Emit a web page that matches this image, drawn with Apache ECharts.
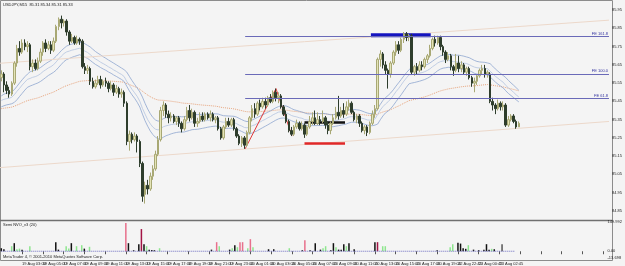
<!DOCTYPE html>
<html><head><meta charset="utf-8">
<script src="https://cdn.jsdelivr.net/npm/echarts@6/dist/echarts.min.js"></script>
<style>html,body{margin:0;padding:0;background:#f4f4f4}#c{width:625px;height:266px}</style>
</head><body><div id="c"></div>
<script>
const symbolTitle = 'USDJPY,M15  85.31 85.34 85.31 85.33';
const indicatorTitle = 'Semi NVO_v3 (20)';
const copyright = 'MetaTrader 4, \u00a9 2001-2010 MetaQuotes Software Corp.';
const totalSlots = 233;
// [open, close, low, high]
const candles = [
[85.58,85.60,85.56,85.62],[85.60,85.54,85.50,85.61],[85.54,85.51,85.49,85.56],[85.51,85.49,85.47,85.53],[85.49,85.55,85.48,85.56],
[85.55,85.66,85.54,85.67],[85.66,85.74,85.64,85.76],[85.74,85.72,85.70,85.78],[85.72,85.77,85.71,85.79],[85.77,85.75,85.73,85.79],
[85.75,85.76,85.72,85.78],[85.76,85.64,85.62,85.77],[85.64,85.66,85.61,85.68],[85.66,85.63,85.62,85.68],[85.63,85.67,85.62,85.69],
[85.67,85.72,85.66,85.74],[85.72,85.77,85.70,85.78],[85.77,85.74,85.72,85.79],[85.74,85.76,85.73,85.78],[85.76,85.73,85.71,85.78],
[85.73,85.78,85.72,85.80],[85.78,85.86,85.77,85.87],[85.86,85.90,85.84,85.91],[85.90,85.88,85.85,85.92],[85.88,85.89,85.86,85.90],
[85.89,85.83,85.81,85.90],[85.83,85.78,85.76,85.84],[85.78,85.80,85.77,85.82],[85.80,85.77,85.76,85.81],[85.77,85.79,85.76,85.81],
[85.79,85.78,85.76,85.80],[85.78,85.64,85.63,85.79],[85.64,85.62,85.60,85.66],[85.62,85.63,85.60,85.65],[85.63,85.56,85.54,85.64],
[85.56,85.53,85.52,85.58],[85.53,85.55,85.52,85.57],[85.55,85.57,85.54,85.59],[85.57,85.54,85.52,85.59],[85.54,85.56,85.53,85.57],
[85.56,85.55,85.53,85.58],[85.55,85.52,85.50,85.56],[85.52,85.54,85.51,85.56],[85.54,85.50,85.48,85.55],[85.50,85.52,85.49,85.54],
[85.52,85.49,85.47,85.53],[85.49,85.50,85.47,85.52],[85.50,85.44,85.42,85.51],[85.44,85.23,85.21,85.45],[85.23,85.27,85.18,85.29],
[85.27,85.24,85.22,85.28],[85.24,85.26,85.23,85.28],[85.26,85.23,85.17,85.27],[85.23,85.11,85.09,85.24],[85.11,84.93,84.90,85.12],
[84.94,84.99,84.89,85.01],[84.99,84.97,84.94,85.02],[84.97,85.04,84.96,85.06],[85.04,85.08,85.02,85.10],[85.08,85.16,85.07,85.18],
[85.16,85.24,85.15,85.26],[85.24,85.40,85.23,85.42],[85.40,85.43,85.37,85.45],[85.43,85.38,85.36,85.44],[85.38,85.36,85.33,85.40],
[85.36,85.37,85.34,85.39],[85.37,85.34,85.33,85.38],[85.34,85.36,85.32,85.37],[85.36,85.33,85.31,85.37],[85.33,85.30,85.28,85.34],
[85.30,85.35,85.29,85.37],[85.35,85.40,85.34,85.42],[85.40,85.36,85.34,85.43],[85.36,85.39,85.35,85.41],[85.39,85.33,85.31,85.40],
[85.33,85.34,85.31,85.36],[85.34,85.37,85.33,85.39],[85.37,85.35,85.34,85.39],[85.35,85.38,85.34,85.39],[85.38,85.36,85.35,85.39],
[85.36,85.38,85.34,85.40],[85.38,85.35,85.34,85.39],[85.35,85.36,85.33,85.37],[85.36,85.30,85.29,85.37],[85.30,85.25,85.24,85.31],
[85.25,85.31,85.24,85.32],[85.31,85.34,85.30,85.36],[85.34,85.32,85.31,85.36],[85.32,85.35,85.31,85.36],[85.35,85.30,85.29,85.36],
[85.30,85.26,85.25,85.31],[85.26,85.22,85.21,85.27],[85.22,85.25,85.20,85.26],[85.25,85.21,85.19,85.26],[85.21,85.28,85.20,85.29],
[85.28,85.36,85.27,85.37],[85.36,85.41,85.34,85.43],[85.41,85.38,85.36,85.44],[85.38,85.44,85.37,85.45],[85.44,85.42,85.40,85.46],
[85.42,85.45,85.41,85.47],[85.45,85.43,85.41,85.47],[85.43,85.47,85.42,85.48],[85.47,85.45,85.44,85.49],[85.45,85.50,85.44,85.51],
[85.50,85.47,85.45,85.52],[85.47,85.48,85.44,85.50],[85.48,85.42,85.41,85.49],[85.42,85.38,85.37,85.43],[85.38,85.34,85.33,85.40],
[85.34,85.29,85.28,85.35],[85.29,85.27,85.26,85.31],[85.27,85.31,85.26,85.32],[85.31,85.33,85.30,85.35],[85.33,85.30,85.29,85.34],
[85.30,85.32,85.29,85.34],[85.32,85.27,85.25,85.33],[85.27,85.31,85.26,85.32],[85.31,85.34,85.30,85.37],[85.34,85.36,85.32,85.39],
[85.36,85.33,85.32,85.40],[85.33,85.35,85.32,85.39],[85.35,85.34,85.32,85.37],[85.34,85.36,85.33,85.40],[85.36,85.32,85.30,85.37],
[85.32,85.29,85.27,85.34],[85.29,85.33,85.27,85.34],[85.33,85.36,85.32,85.38],[85.36,85.39,85.35,85.42],[85.39,85.37,85.35,85.48],
[85.37,85.40,85.36,85.42],[85.40,85.38,85.36,85.44],[85.38,85.42,85.37,85.45],[85.42,85.44,85.40,85.46],[85.44,85.39,85.38,85.45],
[85.39,85.35,85.34,85.40],[85.35,85.37,85.33,85.38],[85.37,85.33,85.31,85.38],[85.33,85.29,85.28,85.34],[85.29,85.31,85.27,85.32],
[85.31,85.28,85.26,85.32],[85.28,85.33,85.27,85.34],[85.33,85.38,85.32,85.40],[85.38,85.41,85.36,85.43],[85.41,85.68,85.40,85.69],
[85.68,85.71,85.64,85.73],[85.71,85.65,85.63,85.72],[85.65,85.62,85.60,85.67],[85.62,85.60,85.52,85.63],[85.60,85.66,85.58,85.67],
[85.66,85.72,85.65,85.73],[85.72,85.76,85.70,85.78],[85.76,85.73,85.71,85.78],[85.73,85.79,85.72,85.80],[85.79,85.82,85.77,85.83],
[85.82,85.80,85.78,85.83],[85.80,85.81,85.78,85.82],[85.81,85.61,85.60,85.82],[85.61,85.64,85.59,85.65],[85.64,85.62,85.60,85.66],
[85.62,85.65,85.61,85.67],[85.65,85.64,85.62,85.67],[85.64,85.68,85.63,85.69],[85.68,85.70,85.66,85.71],[85.70,85.74,85.69,85.76],
[85.74,85.79,85.73,85.80],[85.79,85.77,85.75,85.81],[85.77,85.80,85.76,85.81],[85.80,85.75,85.73,85.81],[85.75,85.72,85.70,85.76],
[85.72,85.68,85.66,85.73],[85.68,85.70,85.67,85.72],[85.70,85.64,85.62,85.71],[85.64,85.62,85.59,85.65],[85.62,85.66,85.61,85.71],
[85.66,85.63,85.61,85.70],[85.63,85.65,85.61,85.67],[85.65,85.61,85.60,85.66],[85.61,85.63,85.59,85.64],[85.63,85.58,85.57,85.64],
[85.58,85.55,85.53,85.59],[85.55,85.56,85.50,85.58],[85.56,85.59,85.54,85.60],[85.59,85.62,85.58,85.63],[85.62,85.63,85.60,85.65],
[85.63,85.60,85.58,85.65],[85.60,85.61,85.58,85.62],[85.60,85.45,85.44,85.61],[85.45,85.43,85.40,85.47],[85.43,85.41,85.38,85.44],
[85.41,85.44,85.40,85.46],[85.44,85.42,85.40,85.45],[85.42,85.43,85.40,85.45],[85.43,85.32,85.31,85.44],[85.32,85.35,85.31,85.37],
[85.35,85.37,85.34,85.38],[85.37,85.34,85.33,85.38],[85.34,85.31,85.30,85.35],[85.31,85.33,85.31,85.34]
];
const timeLabels = ['19 Aug 2010','19 Aug 03:00','19 Aug 05:00','19 Aug 07:00','19 Aug 09:00','19 Aug 11:00','19 Aug 13:00',
'19 Aug 15:00','19 Aug 17:00','19 Aug 19:00','19 Aug 21:00','19 Aug 23:00','20 Aug 01:00','20 Aug 03:00','20 Aug 05:00',
'20 Aug 07:00','20 Aug 09:00','20 Aug 11:00','20 Aug 13:00','20 Aug 15:00','20 Aug 17:00','20 Aug 19:00','22 Aug 22:45',
'23 Aug 00:45','23 Aug 02:45'];
const labelEvery = 8;
// Fibonacci expansion levels
const feNames = ['FE 161.8','FE 100.0','FE 61.8'];
const feValues = [85.805, 85.598, 85.466];
const feStart = 93.3;
const rightEdge = 232.5;
// drawn objects [barPosition, price]
const channelUpper = [[-0.5, 85.659],[232.5, 85.895]];
const channelLower = [[-0.5, 85.087],[232.5, 85.340]];
const zigzag = [[93.3, 85.19],[105.1, 85.52],[111.2, 85.26]];
const blackMark = [[116, 85.334],[131.5, 85.334]];
const redMark = [[116, 85.219],[131.5, 85.219]];
const blueMark = [[141.4, 85.813],[164.3, 85.813]];
// moving average starting values read at first bar
const maSeedHigh = 85.48, maSeedClose = 85.455, maSeedLow = 85.42, maSeedSlow = 85.41;
const maPeriod = 26, slowPeriod = 100;
// indicator histogram [bar, value]
const histGreen = [[4,25],[6,10],[7,13],[11,25],[25,25],[26,13],[29,25],[31,30],[34,22],[56,25],[61,15],[84,25],[89,15],[91,20],[95,15],[97,20],[111,15],[124,15],[125,25],[129,20],[133,25],[147,25],[148,25],[173,20],[174,35],[180,30],[189,12]];
const histBlack = [[0,15],[1,10],[5,40],[8,8],[21,45],[22,8],[27,40],[32,13],[49,40],[51,5],[53,35],[55,35],[57,8],[58,6],[59,5],[81,8],[88,8],[90,30],[103,10],[105,10],[116,5],[119,5],[121,40],[123,8],[127,5],[128,40],[130,8],[131,8],[132,35],[134,40],[136,10],[144,45],[168,5],[176,42],[177,38],[178,15],[179,12],[182,8],[184,5],[186,8],[187,35],[188,8],[190,10]];
const histPink = [[48,140],[83,45],[92,45],[93,45],[96,60],[117,55]];
const histMaroon = [[54,110],[145,45]];
const histGray = [[193,35]];
const indMax = 149.992, indMin = -13.698;
const zeroLine = [[0,0],[198,0]];

const FONT = 'Liberation Sans';
const cats = Array.from({length: totalSlots}, (_, i) => String(i));
function ema(src, seed, period){
  const k = 2/(period+1); let e = seed;
  return src.map((v,i)=>{ if(i>0) e = e + k*(v-e); return +e.toFixed(4); });
}
const highs = candles.map(c=>c[3]), lows = candles.map(c=>c[2]), closes = candles.map(c=>c[1]);
const maHigh = ema(highs, maSeedHigh, maPeriod);
const maClose = ema(closes, maSeedClose, maPeriod);
const maLow = ema(lows, maSeedLow, maPeriod);
const maSlow = ema(closes, maSeedSlow, slowPeriod);
function slots(pairs){ const a = new Array(totalSlots).fill(null); pairs.forEach(p=>{a[p[0]] = p[1];}); return a; }
const lastClose = candles[candles.length-1][1];

const txt = (t, left, top) => ({text: t, left, top, padding: 0,
  textStyle:{fontSize:4, color:'#222', fontWeight:'normal', fontFamily: FONT}});
const overlay = (data, color, width, type) => ({type:'line', xAxisIndex:1, yAxisIndex:0, data, symbol:'none',
  silent:true, lineStyle:{color, width, type: type||'solid'}, z:3});
const hist = (pairs, color) => ({type:'bar', xAxisIndex:2, yAxisIndex:1, data: slots(pairs), barWidth:1.5, barGap:'-100%',
  itemStyle:{color}, silent:true});

const chart = echarts.init(document.getElementById('c'), null, {renderer:'canvas'});
chart.setOption({
  animation:false,
  backgroundColor:'#f4f4f4',
  textStyle:{fontFamily: FONT},
  title:[ txt(symbolTitle, 3, 3), txt(indicatorTitle, 3, 223), txt(copyright, 3, 255) ],
  graphic:[
    {type:'rect', silent:true, shape:{x:0.5, y:0.5, width:612, height:260}, style:{fill:null, stroke:'#8c8c8c', lineWidth:1}},
    {type:'line', silent:true, shape:{x1:0, y1:220.5, x2:612.5, y2:220.5}, style:{stroke:'#707070', lineWidth:1.5}}
  ],
  grid:[
    {left:0, right:13, top:0, height:220},
    {left:0, right:13, top:221, height:33}
  ],
  xAxis:[
    {type:'category', gridIndex:0, data:cats, boundaryGap:true, show:false},
    {type:'value', gridIndex:0, min:-0.5, max:totalSlots-0.5, show:false},
    {type:'category', gridIndex:1, data:cats, boundaryGap:true, offset:6,
      axisLine:{show:false},
      axisTick:{show:true, interval:labelEvery-1, alignWithLabel:true, length:3, lineStyle:{color:'#555'}},
      axisLabel:{interval:labelEvery-1, align:'left', margin:2, fontSize:4, color:'#222', fontFamily:FONT,
        formatter:(v, i)=> (i % labelEvery === 0 && timeLabels[i/labelEvery]) ? timeLabels[i/labelEvery] : ''}},
    {type:'value', gridIndex:1, min:-0.5, max:totalSlots-0.5, show:false}
  ],
  yAxis:[
    {type:'value', gridIndex:0, position:'right', min:84.80, max:86.0055, interval:0.05, scale:true,
      splitLine:{show:false}, axisLine:{show:false}, axisTick:{show:false},
      axisLabel:{margin:3, fontSize:4, color:'#222', fontFamily:FONT,
        formatter:v=>{ const r = Math.round(v*100); return (r % 10 === 5) ? (r/100).toFixed(2) : ''; }}},
    {type:'value', gridIndex:1, position:'right', min:indMin, max:indMax, interval:-indMin,
      splitLine:{show:false}, axisLine:{show:false}, axisTick:{show:false},
      axisLabel:{margin:3, fontSize:4, color:'#222', fontFamily:FONT, showMaxLabel:true, showMinLabel:true,
        formatter:v=>{
          if (Math.abs(v) < 1e-6) return '0.00';
          if (Math.abs(v-indMin) < 1e-3) return '{lo|' + indMin.toFixed(3) + '}';
          if (Math.abs(v-indMax) < 1e-3) return '{hi|' + indMax.toFixed(3) + '}';
          return '';
        },
        rich:{lo:{fontSize:4, padding:[7,0,0,0]}, hi:{fontSize:4, padding:[2,0,0,0]}}}}
  ],
  series:[
    {type:'line', xAxisIndex:0, yAxisIndex:0, data:maSlow, symbol:'none', silent:true,
      lineStyle:{color:'#e8a47c', width:1, type:'dotted'}, z:2},
    {type:'line', xAxisIndex:0, yAxisIndex:0, data:maHigh, symbol:'none', silent:true,
      lineStyle:{color:'#8ea6cf', width:0.8}, z:2},
    {type:'line', xAxisIndex:0, yAxisIndex:0, data:maClose, symbol:'none', silent:true,
      lineStyle:{color:'#b4c4e0', width:0.8}, z:2},
    {type:'line', xAxisIndex:0, yAxisIndex:0, data:maLow, symbol:'none', silent:true,
      lineStyle:{color:'#8ea6cf', width:0.8}, z:2},
    overlay(channelUpper, '#ecd8ca', 1),
    overlay(channelLower, '#ecd8ca', 1),
    Object.assign(overlay(zigzag, '#e03a3a', 1), {
      markLine:{symbol:['none','none'], silent:true,
        lineStyle:{color:'#6a6ab8', width:1, type:'solid'},
        label:{show:true, position:'insideEndTop', distance:[1,1], fontSize:4, color:'#3333a0', fontFamily:FONT,
          formatter:p=>p.name},
        data: feValues.map((v,i)=>[{name:feNames[i], coord:[feStart, v]}, {coord:[rightEdge, v]}])}
    }),
    overlay(blackMark, '#111111', 2.5),
    overlay(redMark, '#e02828', 2.5),
    overlay(blueMark, '#1414c0', 4),
    {type:'candlestick', xAxisIndex:0, yAxisIndex:0, data:candles, barWidth:2, silent:true, z:4,
      itemStyle:{color:'#e4e4b8', color0:'#2e3d2c', borderColor:'#a8a874', borderColor0:'#2e3d2c', borderWidth:1},
      markLine:{symbol:['none','none'], silent:true, lineStyle:{opacity:0},
        label:{show:true, position:'end', distance:1, fontSize:4, color:'#f0f0f0', backgroundColor:'#2a2a2a',
          padding:[1,1,0,1], fontFamily:FONT, formatter:p=>p.value.toFixed(2)},
        data:[{yAxis:lastClose}]}},
    hist(histGreen, '#8ee68e'),
    hist(histBlack, '#111111'),
    hist(histPink, '#e8708c'),
    hist(histMaroon, '#a31445'),
    hist(histGray, '#555555'),
    {type:'line', xAxisIndex:3, yAxisIndex:1, data:zeroLine, symbol:'none', silent:true,
      lineStyle:{color:'#6a6ac0', width:1, type:'dotted'}}
  ]
});
</script></body></html>
